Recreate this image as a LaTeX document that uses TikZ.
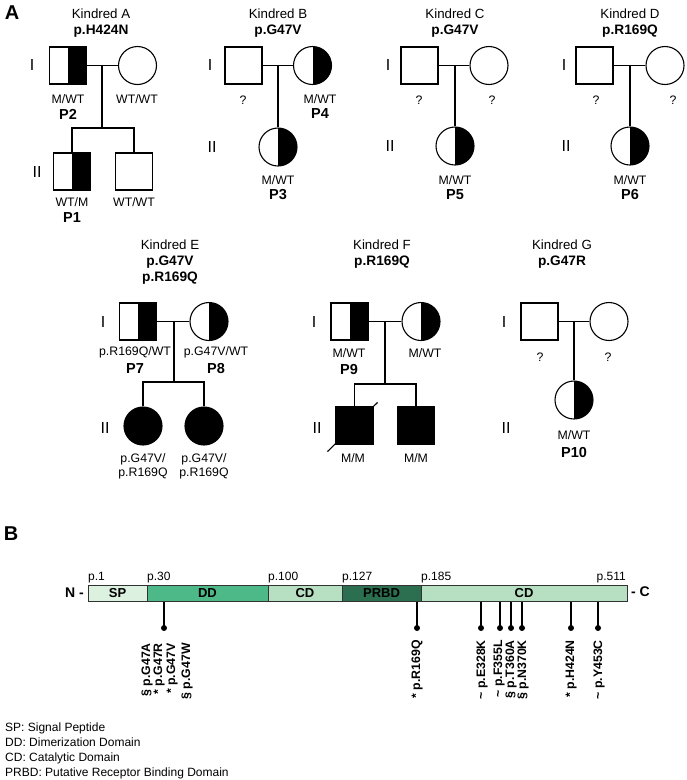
\documentclass[tikz,border=0pt]{standalone}
\usepackage{fontspec}
\setmainfont{Liberation Sans}
\definecolor{spc}{RGB}{221,241,224}
\definecolor{ddc}{RGB}{77,185,137}
\definecolor{cdc}{RGB}{183,224,195}
\definecolor{prc}{RGB}{44,110,80}
\definecolor{bord}{RGB}{50,50,50}
\begin{document}
\begin{tikzpicture}[x=1pt,y=-1pt,
  ped/.style={line width=1.1pt},
  male/.style={draw, line width=1.1pt, rectangle, minimum size=37pt, inner sep=0pt},
  female/.style={draw, line width=1.1pt, circle, minimum size=38pt, inner sep=0pt},
  half/.style={path picture={\fill[black] (path picture bounding box.north) rectangle (path picture bounding box.south east);}},
  full/.style={fill=black},
  kin/.style={font=\fontsize{13.3}{15}\selectfont},
  mut/.style={font=\fontsize{13.7}{15.5}\selectfont\bfseries},
  geno/.style={font=\fontsize{12.3}{14}\selectfont},
  pid/.style={font=\fontsize{14.5}{16}\selectfont\bfseries},
  gen/.style={font=\fontsize{16}{18}\selectfont},
  panel/.style={font=\fontsize{20}{22}\selectfont\bfseries},
  seg/.style={draw=bord, line width=1pt, rectangle, minimum height=16pt, inner sep=0pt, font=\fontsize{13}{14}\selectfont\bfseries},
  poslab/.style={anchor=base west, font=\fontsize{12}{13}\selectfont, inner sep=0pt},
  dot/.style={circle, fill=black, minimum size=6pt, inner sep=0pt},
  stem/.style={line width=2pt},
  mlab/.style={rotate=90, anchor=east, inner sep=0pt, font=\fontsize{12.3}{13}\selectfont\bfseries},
  leg/.style={anchor=base west, inner sep=0pt, font=\fontsize{12}{13}\selectfont}
]
\useasboundingbox (0,0) rectangle (687,780);

% Panel letters
\node[panel] (pA) at (12,13) {A};
\node[panel] (pB) at (11,534) {B};

% ---------------- Kindred A ----------------
\node[kin] (ka) at (101,14) {Kindred A};
\node[mut] (kam) at (101,31) {p.H424N};
\node[male, half] (a1) at (68,65.5) {};
\node[female] (a2) at (137.5,65.5) {};
\coordinate (am) at (102,65.5);
\coordinate (as) at (102,128);
\node[male, half] (a3) at (72,171.5) {};
\node[male] (a4) at (134,171.5) {};
\draw[ped] (a1.east) -- (a2.west);
\draw[ped] (am) -- (as);
\draw[ped] (a3.north) |- (as) -| (a4.north);
\node[geno] (a1g) at (68,99) {M/WT};
\node[pid] (a1p) at (68,114) {P2};
\node[geno] (a2g) at (137,99) {WT/WT};
\node[geno] (a3g) at (72,202) {WT/M};
\node[pid] (a3p) at (72,218) {P1};
\node[geno] (a4g) at (134,202) {WT/WT};
\node[gen] (aI) at (32,65) {I};
\node[gen] (aII) at (37,172) {II};

% ---------------- Kindred B ----------------
\node[kin] (kb) at (278,14) {Kindred B};
\node[mut] (kbm) at (278,31) {p.G47V};
\node[male] (b1) at (243.5,65.5) {};
\node[female, half] (b2) at (312.5,65.5) {};
\coordinate (bm) at (278,65.5);
\node[female, half] (b3) at (278,147) {};
\draw[ped] (b1.east) -- (b2.west);
\draw[ped] (bm) -- (b3.north);
\node[geno] (b1g) at (243,100) {?};
\node[geno] (b2g) at (320,99) {M/WT};
\node[pid] (b2p) at (320,114) {P4};
\node[geno] (b3g) at (278,180) {M/WT};
\node[pid] (b3p) at (278,195) {P3};
\node[gen] (bI) at (210,65) {I};
\node[gen] (bII) at (212,147) {II};

% ---------------- Kindred C ----------------
\node[kin] (kc) at (455,14) {Kindred C};
\node[mut] (kcm) at (455,31) {p.G47V};
\node[male] (c1) at (419.5,65.5) {};
\node[female] (c2) at (489,65.5) {};
\coordinate (cm) at (455,65.5);
\node[female, half] (c3) at (455,146) {};
\draw[ped] (c1.east) -- (c2.west);
\draw[ped] (cm) -- (c3.north);
\node[geno] (c1g) at (419,100) {?};
\node[geno] (c2g) at (492,100) {?};
\node[geno] (c3g) at (455,180) {M/WT};
\node[pid] (c3p) at (455,195) {P5};
\node[gen] (cI) at (388,65) {I};
\node[gen] (cII) at (390,146) {II};

% ---------------- Kindred D ----------------
\node[kin] (kd) at (630,14) {Kindred D};
\node[mut] (kdm) at (630,31) {p.R169Q};
\node[male] (d1) at (594.5,65.5) {};
\node[female] (d2) at (665,65.5) {};
\coordinate (dm) at (630,65.5);
\node[female, half] (d3) at (630,146) {};
\draw[ped] (d1.east) -- (d2.west);
\draw[ped] (dm) -- (d3.north);
\node[geno] (d1g) at (596,100) {?};
\node[geno] (d2g) at (673,100) {?};
\node[geno] (d3g) at (630,180) {M/WT};
\node[pid] (d3p) at (630,195) {P6};
\node[gen] (dI) at (564,65) {I};
\node[gen] (dII) at (566,146) {II};

% ---------------- Kindred E ----------------
\node[kin] (ke) at (170,245) {Kindred E};
\node[mut] (kem1) at (170,262) {p.G47V};
\node[mut] (kem2) at (170,278) {p.R169Q};
\node[male, half] (e1) at (138,321.5) {};
\node[female, half] (e2) at (209,321.5) {};
\coordinate (em) at (174,321.5);
\coordinate (es) at (174,382);
\node[female, full] (e3) at (143,426) {};
\node[female, full] (e4) at (204,426) {};
\draw[ped] (e1.east) -- (e2.west);
\draw[ped] (em) -- (es);
\draw[ped] (e3.north) |- (es) -| (e4.north);
\node[geno] (e1g) at (135,352) {p.R169Q/WT};
\node[pid] (e1p) at (135,369) {P7};
\node[geno] (e2g) at (216,352) {p.G47V/WT};
\node[pid] (e2p) at (216,369) {P8};
\node[geno, align=center] (e3g) at (143,466) {p.G47V/\\p.R169Q};
\node[geno, align=center] (e4g) at (204,466) {p.G47V/\\p.R169Q};
\node[gen] (eI) at (103,322) {I};
\node[gen] (eII) at (105,428) {II};

% ---------------- Kindred F ----------------
\node[kin] (kf) at (382,245) {Kindred F};
\node[mut] (kfm) at (382,262) {p.R169Q};
\node[male, half] (f1) at (349.5,321.5) {};
\node[female, half] (f2) at (421,321.5) {};
\coordinate (fm) at (385,321.5);
\coordinate (fs) at (385,384);
\node[male, full] (f3) at (354.5,425.5) {};
\node[male, full] (f4) at (416,425.5) {};
\draw[ped] (f1.east) -- (f2.west);
\draw[ped] (fm) -- (fs);
\draw[ped] (f3.north) |- (fs) -| (f4.north);
\draw[ped] ([shift={(-8,7)}]f3.south west) -- ([shift={(4,-4)}]f3.north east);
\node[geno] (f1g) at (349,353) {M/WT};
\node[pid] (f1p) at (349,370) {P9};
\node[geno] (f2g) at (425,353) {M/WT};
\node[geno] (f3g) at (353,458) {M/M};
\node[geno] (f4g) at (416,458) {M/M};
\node[gen] (fI) at (314,322) {I};
\node[gen] (fII) at (317,428) {II};

% ---------------- Kindred G ----------------
\node[kin] (kg) at (562,245) {Kindred G};
\node[mut] (kgm) at (562,262) {p.G47R};
\node[male] (g1) at (539.5,321.5) {};
\node[female] (g2) at (609,321.5) {};
\coordinate (gm) at (574,321.5);
\node[female, half] (g3) at (574,400) {};
\draw[ped] (g1.east) -- (g2.west);
\draw[ped] (gm) -- (g3.north);
\node[geno] (g1g) at (540,357) {?};
\node[geno] (g2g) at (608,357) {?};
\node[geno] (g3g) at (574,435) {M/WT};
\node[pid] (g3p) at (574,453) {P10};
\node[gen] (gI) at (504,322) {I};
\node[gen] (gII) at (506,428) {II};

% ---------------- Panel B: protein ----------------
\node[seg, fill=spc, minimum width=59pt] (sp) at (117.5,593) {SP};
\node[seg, fill=ddc, minimum width=121pt] (dd) at (207.5,593) {DD};
\node[seg, fill=cdc, minimum width=74pt] (cd1) at (305,593) {CD};
\node[seg, fill=prc, minimum width=79pt] (pr) at (381.5,593) {PRBD};
\node[seg, fill=cdc, minimum width=206pt] (cd2) at (524,593) {CD};

\node[poslab] (p1) at (88,580) {p.1};
\node[poslab] (p30) at (147,580) {p.30};
\node[poslab] (p100) at (268,580) {p.100};
\node[poslab] (p127) at (342,580) {p.127};
\node[poslab] (p185) at (421,580) {p.185};
\node[anchor=base east, inner sep=0pt, font=\fontsize{12}{13}\selectfont] (p511) at (626,580) {p.511};

\node[anchor=east, inner sep=0pt, font=\fontsize{14}{15}\selectfont\bfseries] (nterm) at (84,593) {N -};
\node[anchor=west, inner sep=0pt, font=\fontsize{14}{15}\selectfont\bfseries] (cterm) at (631,592) {- C};

% lollipops
\node[dot] (m1) at (164,628) {};
\node[dot] (m2) at (417,628) {};
\node[dot] (m3) at (481,628) {};
\node[dot] (m4) at (500,628) {};
\node[dot] (m5) at (511,628) {};
\node[dot] (m6) at (522,628) {};
\node[dot] (m7) at (571,628) {};
\node[dot] (m8) at (598,628) {};
\draw[stem] (m1.center) -- (m1 |- dd.south);
\draw[stem] (m2.center) -- (m2 |- cd2.south);
\draw[stem] (m3.center) -- (m3 |- cd2.south);
\draw[stem] (m4.center) -- (m4 |- cd2.south);
\draw[stem] (m5.center) -- (m5 |- cd2.south);
\draw[stem] (m6.center) -- (m6 |- cd2.south);
\draw[stem] (m7.center) -- (m7 |- cd2.south);
\draw[stem] (m8.center) -- (m8 |- cd2.south);

\node[mlab] (l1) at (147,643) {§ p.G47A};
\node[mlab] (l2) at (159,643) {* p.G47R};
\node[mlab] (l3) at (172,643) {* p.G47V};
\node[mlab] (l4) at (187,643) {§ p.G47W};
\node[mlab] (l5) at (417,640) {* p.R169Q};
\node[mlab] (l6) at (482,640) {\textasciitilde\ p.E328K};
\node[mlab] (l7) at (499,640) {\textasciitilde\ p.F355L};
\node[mlab] (l8) at (511,640) {§ p.T360A};
\node[mlab] (l9) at (523,640) {§ p.N370K};
\node[mlab] (l10) at (571,640) {* p.H424N};
\node[mlab] (l11) at (599,640) {\textasciitilde\ p.Y453C};

% legend
\node[leg] (lg1) at (5,731) {SP: Signal Peptide};
\node[leg] (lg2) at (5,746) {DD: Dimerization Domain};
\node[leg] (lg3) at (5,761) {CD: Catalytic Domain};
\node[leg] (lg4) at (5,776) {PRBD: Putative Receptor Binding Domain};
\end{tikzpicture}
\end{document}
